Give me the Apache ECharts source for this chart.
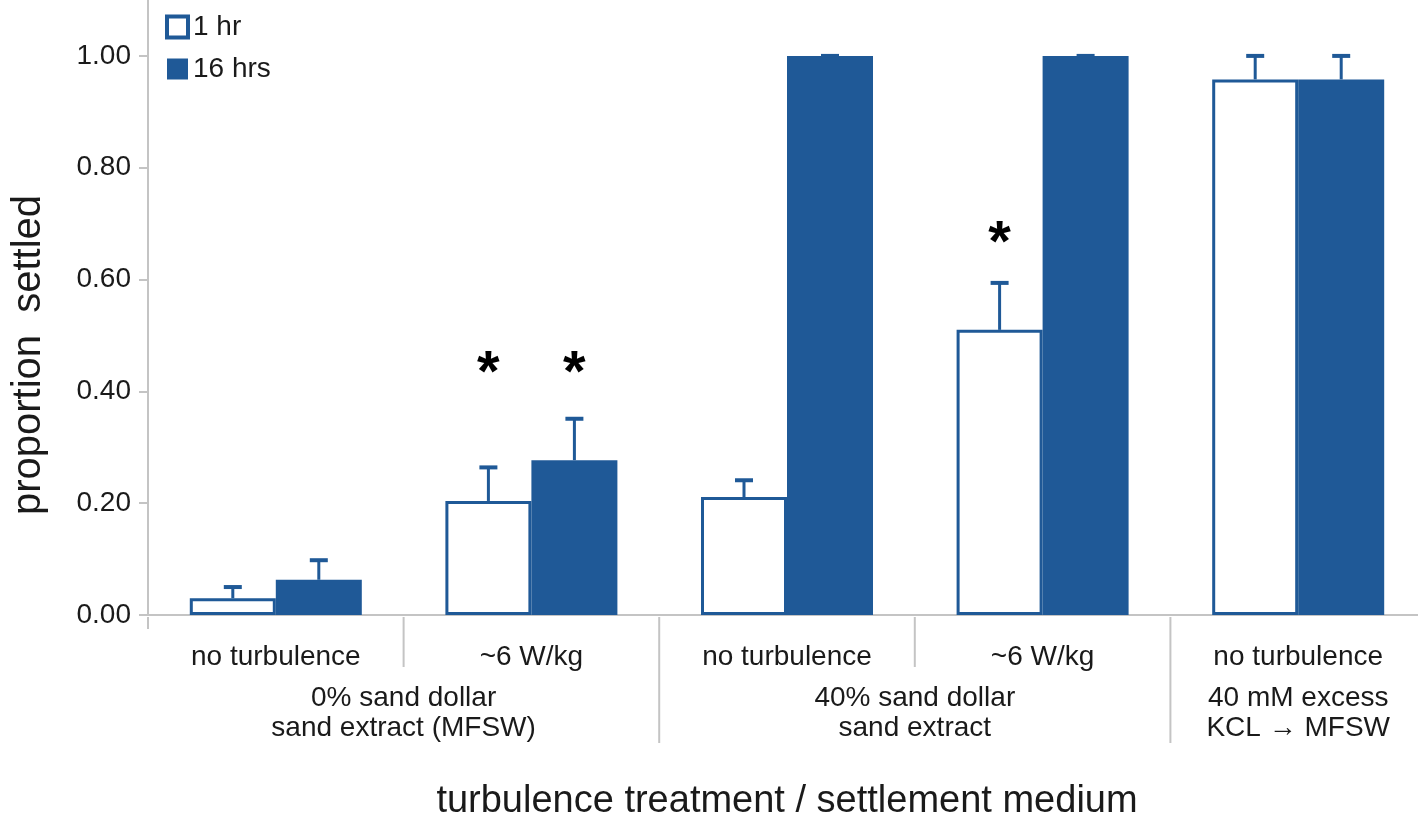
<!DOCTYPE html>
<html>
<head>
<meta charset="utf-8">
<script src="https://cdn.jsdelivr.net/npm/echarts@6/dist/echarts.min.js"></script>
<style>
html,body{margin:0;padding:0;background:#fff;}
#chart{width:1418px;height:814px;}
</style>
</head>
<body>
<div id="chart"></div>
<script>
// ---- data ----
const categories = ['no turbulence', '~6 W/kg', 'no turbulence', '~6 W/kg', 'no turbulence'];
const groupLabels = ['0% sand dollar\nsand extract (MFSW)', '40% sand dollar\nsand extract', '40 mM excess\nKCL \u2192 MFSW'];
const groupSpans = [2, 2, 1];
const seriesNames = ['1 hr', '16 hrs'];
const oneHr = [0.030, 0.204, 0.211, 0.510, 0.958];
const oneHrErrTop = [0.050, 0.264, 0.241, 0.594, 1.000];
const sixteenHrs = [0.063, 0.277, 1.000, 1.000, 0.958];
const sixteenHrsErrTop = [0.098, 0.351, 1.000, 1.000, 1.000];
const oneHrStars = [null, 0.455, null, 0.688, null];
const sixteenHrsStars = [null, 0.455, null, null, null];
const yTicks = [0, 0.2, 0.4, 0.6, 0.8, 1.0];

// ---- style ----
const BLUE = '#1f5997';
const GRAY = '#c4c4c4';
const TXT = '#1a1a1a';
const FONT = '"Liberation Sans", Arial, Helvetica, sans-serif';
const BAR_W = 86;

const chart = echarts.init(document.getElementById('chart'), null, {renderer: 'canvas'});

function errRender(offsetSign) {
  return function (params, api) {
    const i = api.value(0);
    const top = api.coord([i, api.value(1)]);
    const errP = api.coord([i, api.value(2)]);
    const x = top[0] + offsetSign * BAR_W / 2;
    const cap = 9;
    return {
      type: 'group',
      children: [
        {type: 'line', shape: {x1: x, y1: top[1], x2: x, y2: errP[1]}, style: {stroke: BLUE, lineWidth: 3}},
        {type: 'line', shape: {x1: x - cap, y1: errP[1], x2: x + cap, y2: errP[1]}, style: {stroke: BLUE, lineWidth: 4}}
      ]
    };
  };
}

function starRender(offsetSign) {
  return function (params, api) {
    const i = api.value(0);
    const p = api.coord([i, api.value(1)]);
    const fs = 58;
    return {
      type: 'text',
      style: {
        x: p[0] + offsetSign * BAR_W / 2,
        y: p[1] + fs * 0.25,
        text: '*',
        fontSize: fs,
        fontWeight: 'bold',
        fontFamily: FONT,
        fill: '#000',
        align: 'center',
        verticalAlign: 'middle'
      }
    };
  };
}

const groupStart = [];
{
  let c = 0;
  groupSpans.forEach((s, g) => { groupStart[c] = g; c += s; });
}

function sepRender(params, api) {
  const i = api.value(0);
  const c = api.coord([i, 0]);
  const band = api.size([1, 0])[0];
  const left = c[0] - band / 2;
  const children = [];
  let len;
  if (i === 0) len = 14;
  else if (groupStart[i] !== undefined) len = 128;
  else len = 52;
  children.push({type: 'line', shape: {x1: left, y1: c[1] + 2, x2: left, y2: c[1] + len}, style: {stroke: GRAY, lineWidth: 2}});
  const g = groupStart[i];
  if (g !== undefined) {
    children.push({
      type: 'text',
      style: {
        x: left + groupSpans[g] * band / 2,
        y: c[1] + 98,
        text: groupLabels[g],
        fontSize: 28,
        lineHeight: 30,
        fontFamily: FONT,
        fill: TXT,
        align: 'center',
        verticalAlign: 'middle'
      }
    });
  }
  return {type: 'group', children: children};
}

const option = {
  animation: false,
  backgroundColor: '#fff',
  textStyle: {fontFamily: FONT},
  legend: {
    orient: 'vertical',
    left: 160,
    top: 8,
    itemWidth: 21,
    itemHeight: 21,
    itemGap: 14,
    icon: 'rect',
    textStyle: {fontSize: 28, color: TXT, fontFamily: FONT},
    data: [
      {name: seriesNames[0], itemStyle: {color: '#fff', borderColor: BLUE, borderWidth: 4}},
      {name: seriesNames[1], itemStyle: {color: BLUE, borderColor: BLUE, borderWidth: 0}}
    ]
  },
  grid: {left: 148, top: 0, width: 1278, height: 615, containLabel: false, outerBoundsMode: 'none'},
  xAxis: {
    type: 'category',
    data: categories,
    axisLine: {show: true, lineStyle: {color: GRAY, width: 2}},
    axisTick: {show: false},
    axisLabel: {fontSize: 28, color: TXT, margin: 28, fontFamily: FONT, interval: 0},
    name: 'turbulence treatment / settlement medium',
    nameLocation: 'middle',
    nameGap: 168,
    nameTextStyle: {fontSize: 38, color: TXT, fontFamily: FONT}
  },
  yAxis: {
    type: 'value',
    min: 0,
    max: 1.1,
    interval: 0.2,
    axisLine: {show: true, lineStyle: {color: GRAY, width: 2}},
    axisTick: {show: true, length: 9, lineStyle: {color: GRAY, width: 2}},
    splitLine: {show: false},
    axisLabel: {
      fontSize: 28, color: TXT, margin: 17, fontFamily: FONT,
      showMaxLabel: false,
      formatter: v => (yTicks.some(t => Math.abs(t - v) < 1e-6) ? v.toFixed(2) : '')
    }
  },
  graphic: [{
    type: 'text',
    x: 29, y: 355,
    rotation: Math.PI / 2,
    style: {
      text: 'proportion  settled',
      fontSize: 40,
      fontFamily: FONT,
      fill: TXT,
      align: 'center',
      verticalAlign: 'middle'
    }
  }],
  series: [
    {
      name: seriesNames[0], type: 'bar', data: oneHr, barWidth: BAR_W, barGap: '0%',
      itemStyle: {color: '#fff', borderColor: BLUE, borderWidth: 3}
    },
    {
      name: seriesNames[1], type: 'bar', data: sixteenHrs, barWidth: BAR_W, barGap: '0%',
      itemStyle: {color: BLUE, borderColor: BLUE, borderWidth: 0}
    },
    {
      type: 'custom', name: 'err1', coordinateSystem: 'cartesian2d', z: 5, clip: false,
      renderItem: errRender(-1),
      data: categories.map((c, i) => [i, oneHr[i], oneHrErrTop[i]])
    },
    {
      type: 'custom', name: 'err2', coordinateSystem: 'cartesian2d', z: 5, clip: false,
      renderItem: errRender(1),
      data: categories.map((c, i) => [i, sixteenHrs[i], sixteenHrsErrTop[i]])
    },
    {
      type: 'custom', name: 'star1', coordinateSystem: 'cartesian2d', z: 6, clip: false,
      renderItem: starRender(-1),
      data: oneHrStars.map((v, i) => [i, v]).filter(d => d[1] !== null)
    },
    {
      type: 'custom', name: 'star2', coordinateSystem: 'cartesian2d', z: 6, clip: false,
      renderItem: starRender(1),
      data: sixteenHrsStars.map((v, i) => [i, v]).filter(d => d[1] !== null)
    },
    {
      type: 'custom', name: 'sep', coordinateSystem: 'cartesian2d', z: 1, clip: false,
      renderItem: sepRender,
      data: categories.map((c, i) => [i, 0])
    }
  ]
};
chart.setOption(option);
</script>
</body>
</html>
